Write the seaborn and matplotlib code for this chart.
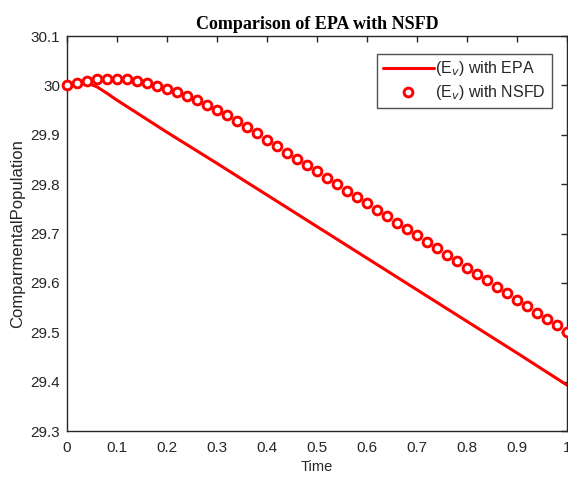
import matplotlib
matplotlib.use("Agg")
import matplotlib.pyplot as plt
import seaborn as sns
import pandas as pd
import numpy as np

# ---- data ----
t_epa = [0.0, 0.02, 0.04, 0.06, 0.08, 0.10, 0.20, 0.30, 0.40, 0.50,
         0.60, 0.70, 0.80, 0.90, 1.00]
ev_epa = [30.000, 30.004, 30.005, 29.997, 29.984, 29.970, 29.905, 29.842,
          29.778, 29.714, 29.650, 29.586, 29.522, 29.458, 29.393]

t_nsfd = [round(0.02 * i, 2) for i in range(51)]
ev_nsfd = [30.000, 30.005, 30.009, 30.012, 30.013, 30.013, 30.012, 30.009,
           30.004, 29.999, 29.993, 29.986, 29.978, 29.970, 29.961, 29.951,
           29.940, 29.928, 29.916, 29.903, 29.890, 29.877, 29.864, 29.851,
           29.838, 29.826, 29.813, 29.800, 29.787, 29.774, 29.761, 29.748,
           29.735, 29.722, 29.709, 29.696, 29.683, 29.670, 29.657, 29.644,
           29.631, 29.618, 29.605, 29.592, 29.579, 29.566, 29.553, 29.540,
           29.527, 29.514, 29.500]

xticks = [0, 0.1, 0.2, 0.3, 0.4, 0.5, 0.6, 0.7, 0.8, 0.9, 1]
xticklabels = ["0", "0.1", "0.2", "0.3", "0.4", "0.5", "0.6", "0.7", "0.8", "0.9", "1"]
yticks = [29.3, 29.4, 29.5, 29.6, 29.7, 29.8, 29.9, 30.0, 30.1]
yticklabels = ["29.3", "29.4", "29.5", "29.6", "29.7", "29.8", "29.9", "30", "30.1"]

df_epa = pd.DataFrame({"Time": t_epa, "Ev": ev_epa})
df_nsfd = pd.DataFrame({"Time": t_nsfd, "Ev": ev_nsfd})

sns.set_style("white")
plt.rcParams['font.family'] = ['Liberation Sans', 'DejaVu Sans']

fig = plt.figure(figsize=(5.68, 4.78), dpi=100)
ax = fig.add_axes([67 / 568, 1 - 431 / 478, 500 / 568, 395 / 478])

sns.lineplot(data=df_epa, x="Time", y="Ev", ax=ax, color="#ff0000",
             linewidth=2.2, label="(E$_v$) with EPA")
ax.plot(df_nsfd["Time"], df_nsfd["Ev"], linestyle="none", marker="o",
        markersize=6.3, markerfacecolor="white", markeredgecolor="#ff0000",
        markeredgewidth=2.1, label="(E$_v$) with NSFD", clip_on=False, zorder=3)

ax.set_xlim(0, 1)
ax.set_ylim(29.3, 30.1)
ax.set_xticks(xticks)
ax.set_xticklabels(xticklabels)
ax.set_yticks(yticks)
ax.set_yticklabels(yticklabels)
ax.tick_params(direction="in", length=4, width=1, top=True, right=True,
               labelsize=11, colors="#262626", pad=5)
ax.tick_params(axis="x", pad=7)
for s in ax.spines.values():
    s.set_color("#262626")
    s.set_linewidth(1.0)

ax.set_xlabel("Time", fontsize=10.5, color="#262626", labelpad=4)
ax.set_ylabel("ComparmentalPopulation", fontsize=12, color="#262626", labelpad=4)
ax.set_title("Comparison of EPA with NSFD", fontsize=13, fontweight="bold",
             family="Liberation Serif", color="black", pad=5)

leg = ax.legend(loc="upper right", fontsize=11.5, frameon=True, fancybox=False,
                edgecolor="#262626", handlelength=3.2, handletextpad=0.1,
                borderpad=0.35, labelspacing=0.3, bbox_to_anchor=(0.985, 0.975))
leg.get_frame().set_linewidth(1.0)

fig.savefig("out.png", dpi=100)
